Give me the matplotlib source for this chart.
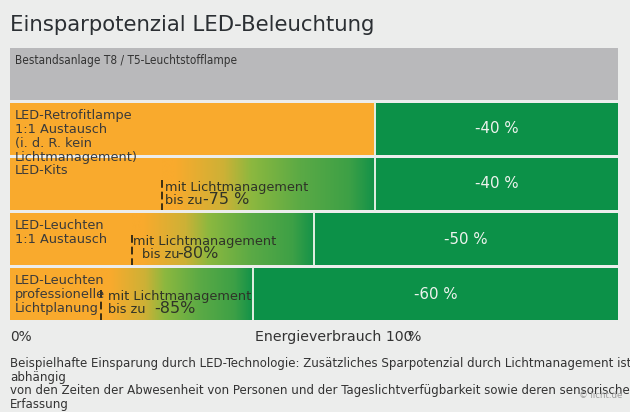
import matplotlib
matplotlib.use("Agg")
import matplotlib.pyplot as plt
from matplotlib import font_manager as fm
from matplotlib.colors import LinearSegmentedColormap
import numpy as np

# ---------------- data ----------------
title = "Einsparpotenzial LED-Beleuchtung"
base_label = "Bestandsanlage T8 / T5-Leuchtstofflampe"
row_labels = [
    "LED-Retrofitlampe\n1:1 Austausch\n(i. d. R. kein\nLichtmanagement)",
    "LED-Kits",
    "LED-Leuchten\n1:1 Austausch",
    "LED-Leuchten\nprofessionelle\nLichtplanung",
]
led_savings = [0.40, 0.40, 0.50, 0.60]          # savings by LED alone
mgmt_savings = [None, 0.75, 0.80, 0.85]         # savings incl. light management
led_texts = ["-40 %", "-40 %", "-50 %", "-60 %"]
mgmt_texts = [None, "-75 %", "-80%", "-85%"]
axis_left = "0%"
axis_mid = "Energieverbrauch 100"
axis_mid_tail = "%"
footer = ("Beispielhafte Einsparung durch LED-Technologie: Zusätzliches Sparpotenzial durch Lichtmanagement ist\n"
          "abhängig\n"
          "von den Zeiten der Abwesenheit von Personen und der Tageslichtverfügbarkeit sowie deren sensorischen\n"
          "Erfassung")
credit = "© licht.de"

# ---------------- style ----------------
BG = "#ECEDEC"
GRAY = "#B9B9BB"
ORANGE = "#F9AA2D"
GREEN = "#0C9148"
TXT = "#3a3a3a"

cond_file = None
for f in fm.fontManager.ttflist:
    if f.name == "DejaVu Sans" and f.stretch == "condensed" and f.style == "normal" and f.weight in (400, "normal", "regular"):
        cond_file = f.fname
        break

def condfont(size):
    if cond_file:
        return fm.FontProperties(fname=cond_file, size=size)
    return fm.FontProperties(family="DejaVu Sans", size=size * 0.92)

grad = LinearSegmentedColormap.from_list("g", [
    (0.0, ORANGE), (0.06, ORANGE), (0.29, "#CDB136"), (0.42, "#8CB83F"),
    (0.65, "#5BAA45"), (0.88, "#3DA046"), (1.0, "#129249")])

W, H = 630, 412
fig = plt.figure(figsize=(W / 100, H / 100), dpi=100, facecolor=BG)
x0, x1 = 10, 618
y0, y1 = 48, 320
ax = fig.add_axes([x0 / W, 1 - y1 / H, (x1 - x0) / W, (y1 - y0) / H])
ax.set_facecolor(BG)
ax.set_xlim(0, 1)
BH = 0.945
ax.set_ylim(4 + BH, 0)
ax.axis("off")

# base bar
ax.barh(0, 1, height=BH, left=0, align="edge", color=GRAY, lw=0)
ax.text(0.008, 0.22, base_label, fontproperties=condfont(8.5), color="#333333", va="center", ha="left")

for i in range(4):
    r = i + 1
    split = 1 - led_savings[i]
    ax.barh(r, split, height=BH, left=0, align="edge", color=ORANGE, lw=0)
    ax.barh(r, 1 - split, height=BH, left=split, align="edge", color=GREEN, lw=0)
    if mgmt_savings[i] is not None:
        start = 1 - mgmt_savings[i]
        g = np.linspace(0, 1, 256).reshape(1, -1)
        ax.imshow(g, cmap=grad, aspect="auto", extent=[start, split, r + BH, r],
                  interpolation="bicubic", zorder=2)
        ax.plot([start, start], [r + 0.4, r + BH], color="#3b2e14", lw=1.4,
                ls=(0, (4, 2)), zorder=4, solid_capstyle="butt")
    ax.plot([split, split], [r, r + BH], color="#E3EFE4", lw=1.4, zorder=3)
    ax.text((split + 1) / 2, r + BH / 2, led_texts[i], color="#EEF3EE", fontsize=10.8,
            ha="center", va="center", zorder=5)
    ax.text(0.008, r + 0.1, row_labels[i], color=TXT, fontsize=9.3, ha="left", va="top",
            linespacing=1.1, zorder=5)

# management annotations (positions in pixels of the figure)
def px(x):
    return (x - x0) / (x1 - x0)

def py(y):
    return (y - y0) / ((y1 - y0) / (4 + BH))

MC = "#2f3328"
ann = [  # (x mit, baseline1, x bis, baseline2, x pct)
    (165, 190.5, 165, 203.5, 203),
    (133, 244.5, 142, 257.5, 177),
    (108, 299.5, 108, 312.5, 154),
]
for k, (xm, b1, xb, b2, xp) in enumerate(ann):
    ax.text(px(xm), py(b1), "mit Lichtmanagement", color=MC, fontsize=9.3, va="baseline", ha="left", zorder=5)
    ax.text(px(xb), py(b2), "bis zu", color=MC, fontsize=9.3, va="baseline", ha="left", zorder=5)
    ax.text(px(xp), py(b2 + 0.5), mgmt_texts[k + 1], color=MC, fontsize=11.5, va="baseline", ha="left", zorder=5)

# title
fig.text(10 / W, 1 - 25 / H, title, fontsize=15.3, color="#2b2f33", ha="left", va="center")

# axis labels
fig.text(10 / W, 1 - 337 / H, axis_left, fontsize=9.8, color="#333333", ha="left", va="center")
mid = fig.text(255 / W, 1 - 337 / H, axis_mid, fontsize=10.2, color="#333333", ha="left", va="center")
renderer = fig.canvas.get_renderer()
bb = mid.get_window_extent(renderer)
fig.text((bb.x1 - 5) / W, 1 - 337 / H, axis_mid_tail, fontsize=10.2, color="#333333", ha="left", va="center")

# footer
fig.text(10 / W, 1 - 357 / H, footer, fontproperties=condfont(9.42), color="#333333",
         ha="left", va="top", linespacing=1.07)
fig.text(622 / W, 1 - 396 / H, credit, fontsize=6.2, color="#9a9a9a", ha="right", va="center")

fig.savefig("out.png", dpi=100, facecolor=BG)
